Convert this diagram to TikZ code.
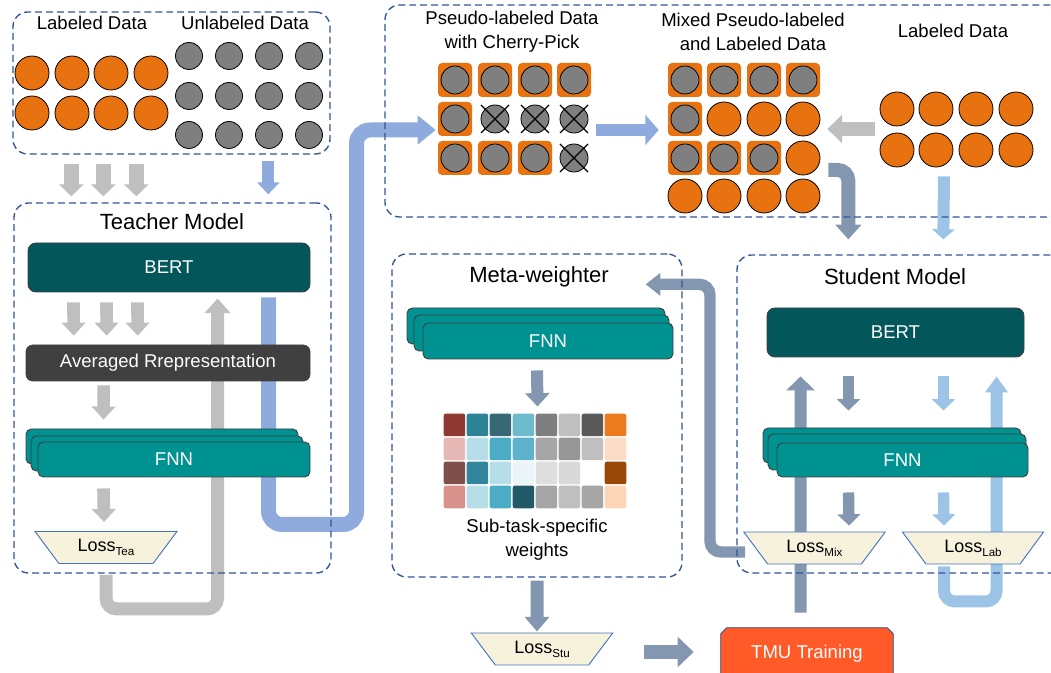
\documentclass[tikz,border=0pt]{standalone}
\usepackage{fontspec}
\setmainfont{Liberation Sans}
\usetikzlibrary{arrows.meta,fit,shapes.geometric}
\pgfdeclarelayer{back}
\pgfsetlayers{back,main}

\definecolor{dashc}{HTML}{2F5597}
\definecolor{orangec}{HTML}{E97210}
\definecolor{grayc}{HTML}{7F7F7F}
\definecolor{bertc}{HTML}{03575B}
\definecolor{avgc}{HTML}{404040}
\definecolor{fnnc}{HTML}{009191}
\definecolor{edgec}{HTML}{3F3F3F}
\definecolor{lossc}{HTML}{F6F2DC}
\definecolor{lossedge}{HTML}{4472C4}
\definecolor{tmuc}{HTML}{FF5A27}
\definecolor{tmuedge}{HTML}{2F528F}
\definecolor{arrgray}{HTML}{BFBFBF}
\definecolor{arrblue}{HTML}{8FAADC}
\definecolor{arrslate}{HTML}{8497B0}
\definecolor{arrlblue}{HTML}{9DC3E6}

\newcommand\fsmain{\fontsize{13.9}{18}\selectfont}
\newcommand\fstitle{\fontsize{16.5}{20}\selectfont}
\newcommand\losssub[1]{\raisebox{-3pt}{\fontsize{8.7}{9}\selectfont #1}}

% one orange square holding a grey circle
\newcommand\sqcell[3]{\node[osq] (#1) at (#2,#3) {};\node[gcirc] (#1c) at (#2,#3) {};}
% a grey circle crossed out
\newcommand\xcell[3]{\node[gcirc] (#1) at (#2,#3) {};
  \draw[line width=0.9pt] ([shift={(-14,-14)}]#1.center) -- ([shift={(14,14)}]#1.center)
    ([shift={(-14,14)}]#1.center) -- ([shift={(14,-14)}]#1.center);}
% a plain orange circle
\newcommand\ocell[3]{\node[ocirc] (#1) at (#2,#3) {};}

\begin{document}
\begin{tikzpicture}[x=0.75pt,y=-0.75pt,
  txt/.style={font=\fsmain, inner sep=0, align=center},
  ttl/.style={font=\fstitle, inner sep=0},
  intext/.style={label={[text=white, font=\fsmain, inner sep=0]center:#1}},
  frame/.style={draw=dashc, dash pattern=on 5.2pt off 3pt, line width=1pt, rounded corners=11pt, inner sep=0},
  bertbox/.style={fill=bertc, draw=edgec, line width=0.7pt, rounded corners=6pt, inner sep=0},
  avgbox/.style={fill=avgc, draw=avgc, line width=0.5pt, rounded corners=5pt, inner sep=0},
  fnnbox/.style={fill=fnnc, draw=edgec, line width=0.7pt, rounded corners=4pt, inner sep=0},
  lossbox/.style={trapezium, trapezium stretches=true, shape border rotate=180,
    trapezium angle=49, minimum width=106.5pt, minimum height=24pt,
    fill=lossc, draw=lossedge, line width=0.7pt, inner sep=0, font=\fontsize{13.5}{16}\selectfont},
  ocirc/.style={circle, fill=orangec, draw=black, line width=0.6pt, minimum size=25.5pt, inner sep=0},
  gcirc/.style={circle, fill=grayc, draw=black, line width=0.6pt, minimum size=21pt, inner sep=0},
  ucirc/.style={circle, fill=grayc, draw=black, line width=0.6pt, minimum size=20.25pt, inner sep=0},
  osq/.style={rectangle, fill=orangec, rounded corners=3pt, minimum size=25.5pt, inner sep=0},
  wcell/.style={rectangle, draw=white, line width=0.8pt, rounded corners=2pt, minimum width=17.25pt, minimum height=18pt, inner sep=0},
  ba/.style n args={4}{draw=#1, line width=#2, -{Triangle[width=#3,length=#4]}}
]
\useasboundingbox (0,0) rectangle (1051,673);

% ---------- input data ----------
\node[frame, fit={(13,12)(330,154)}] (dataL) {};
\node[txt] (tlab) at (92,23) {Labeled Data};
\node[txt] (tunl) at (245,23) {Unlabeled Data};
\foreach \c/\x in {1/32,2/72,3/111,4/151}{
  \foreach \r/\y in {1/73,2/113}{\node[ocirc] (l\r\c) at (\x,\y) {};}}
\foreach \c/\x in {1/189,2/229,3/269,4/309}{
  \foreach \r/\y in {1/56,2/96,3/135}{\node[ucirc] (u\r\c) at (\x,\y) {};}}

% ---------- teacher ----------
\node[frame, fit={(14,203)(331,573)}] (tbox) {};
\node[ttl] (ttea) at (172,222) {Teacher Model};
\node[bertbox, fit={(28,243)(310,292)}, intext=BERT] (tbert) {};
\node[avgbox, fit={(26,345)(310,381)}, intext=Averaged Rrepresentation] (tavg) {};
\node[fnnbox, fit={(26,429)(298,464)}] (tfnnc) {};
\node[fnnbox, fit={(31,436)(303,471)}] (tfnnb) {};
\node[fnnbox, fit={(38,442)(310,477)}, intext=FNN] (tfnn) {};
\node[lossbox] (tloss) at (106,547.5) {Loss\losssub{Tea}};

% ---------- pseudo-labelled / mixed / labelled data ----------
\node[frame, fit={(385,5)(1065,217)}] (dataR) {};
\node[txt] (tpseudo) at (512,32) {Pseudo-labeled Data\\with Cherry-Pick};
\node[txt] (tmixed) at (753,32) {Mixed Pseudo-labeled\\and Labeled Data};
\node[txt] (trlab) at (953,31) {Labeled Data};

\sqcell{p11}{455}{80}\sqcell{p12}{495}{80}\sqcell{p13}{535}{80}\sqcell{p14}{574}{80}
\sqcell{p21}{455}{119}\xcell{p22}{495}{119}\xcell{p23}{535}{119}\xcell{p24}{574}{119}
\sqcell{p31}{455}{158}\sqcell{p32}{495}{158}\sqcell{p33}{535}{158}\xcell{p34}{574}{158}

\sqcell{m11}{685}{80}\sqcell{m12}{724}{80}\sqcell{m13}{764}{80}\sqcell{m14}{803}{80}
\sqcell{m21}{685}{119}\ocell{m22}{724}{119}\ocell{m23}{764}{119}\ocell{m24}{803}{119}
\sqcell{m31}{685}{158}\sqcell{m32}{724}{158}\sqcell{m33}{764}{158}\ocell{m34}{803}{158}
\ocell{m41}{685}{196}\ocell{m42}{724}{196}\ocell{m43}{764}{196}\ocell{m44}{803}{196}

\foreach \c/\x in {1/897,2/936,3/976,4/1016}{
  \foreach \r/\y in {1/109,2/150}{\node[ocirc] (r\r\c) at (\x,\y) {};}}

% ---------- meta-weighter ----------
\node[frame, fit={(392,254)(682,577)}] (mbox) {};
\node[ttl] (tmeta) at (539,277) {Meta-weighter};
\node[fnnbox, fit={(407,308)(665,344)}] (mfnnc) {};
\node[fnnbox, fit={(414,315)(669,351)}] (mfnnb) {};
\node[fnnbox, fit={(423,323)(673,359)}, intext=FNN] (mfnn) {};
\foreach \row [count=\j] in {
  {8E3A32,2E8497,376876,6EBACD,7F7F7F,BFBFBF,595959,EC7A1F},
  {E6B8B5,B6DDE8,4BACC6,5DB2CC,A6A6A6,969696,BFBFBF,FBDCC4},
  {7F504B,31859C,B6DDE8,EBF5F8,DEDEDE,D9D9D9,FFFFFF,984807},
  {D9918C,B6DDE8,4BACC6,215968,A6A6A6,BFBFBF,A6A6A6,FBD5B5}}{
  \foreach \col [count=\i] in \row {
    \definecolor{wc}{HTML}{\col}
    \node[wcell, fill=wc] (w\i-\j) at (431.5+23*\i, 401+24*\j) {};}}
\node[txt] (tsub) at (537,540) {Sub-task-specific\\weights};

% ---------- student ----------
\node[frame, fit={(737,255)(1065,573)}] (sbox) {};
\node[ttl] (tstu) at (895,277) {Student Model};
\node[bertbox, fit={(767,308)(1024,357)}, intext=BERT] (sbert) {};
\node[fnnbox, fit={(763,428)(1021,463)}] (sfnnc) {};
\node[fnnbox, fit={(768,434)(1026,470)}] (sfnnb) {};
\node[fnnbox, fit={(777,443)(1028,477)}, intext=FNN] (sfnn) {};
\node[lossbox] (lmix) at (814.5,548) {Loss\losssub{Mix}};
\node[lossbox] (llab) at (973,548) {Loss\losssub{Lab}};

% ---------- student loss and TMU training ----------
\node[lossbox] (lstu) at (542,649) {Loss\losssub{Stu}};
\node[inner sep=0, fit={(721,628)(893,678)}] (tmu) {};
\filldraw[fill=tmuc, draw=tmuedge, line width=0.7pt]
  (tmu.south west) -- ([shift={(0,6)}]tmu.north west) -- ([shift={(6,0)}]tmu.north west)
  -- ([shift={(-6,0)}]tmu.north east) -- ([shift={(0,6)}]tmu.north east) -- (tmu.south east) -- cycle;
\node[txt, text=white] (tmulabel) at ([shift={(0,1)}]tmu.center) {TMU Training};

% ---------- block arrows, behind the boxes ----------
\begin{pgfonlayer}{back}
\foreach \dx in {59,91,124}{
  \draw[ba={arrgray}{11pt}{18pt}{9pt}] ([shift={(\dx,9)}]dataL.south west) -- ([shift={(\dx-1,-6)}]tbox.north west);}
\draw[ba={arrblue}{9pt}{16.5pt}{9pt}] ([shift={(256,6)}]dataL.south west) -- ([shift={(255,-8)}]tbox.north west);

\foreach \dx in {46,79,110}{
  \draw[ba={arrgray}{9.5pt}{17.5pt}{9.75pt}] ([shift={(\dx,10)}]tbert.south west) -- ([shift={(\dx+2,-9)}]tavg.north west);}
\draw[ba={arrgray}{9.5pt}{17.5pt}{9.75pt}] ([shift={(78,4)}]tavg.south west) -- ([shift={(78,-9)}]tfnnc.north west);
\draw[ba={arrgray}{9.5pt}{17.5pt}{9.75pt}] ([shift={(66,11)}]tfnn.south west) -- ([shift={(-2,-9)}]tloss.north);
\draw[ba={arrgray}{9.75pt}{19pt}{11pt}, rounded corners=8pt]
  ([shift={(0,11)}]tloss.south) -- ++(0,34) -| ([shift={(190,6)}]tbert.south west);
\draw[ba={arrblue}{11.25pt}{21pt}{13.5pt}, rounded corners=10pt]
  ([shift={(241,5)}]tbert.south west) -- ++(0,227) -- ++(88,0) |- ([shift={(-2,11)}]p21.west);

\draw[ba={arrblue}{9pt}{22pt}{10pt}] ([shift={(8,11)}]p24.east) -- ([shift={(-9,11)}]m21.west);
\draw[ba={arrgray}{10.5pt}{21pt}{11pt}] ([shift={(-5,20)}]r11.west) -- ([shift={(7,10)}]m24.east);
\draw[ba={arrslate}{10.5pt}{19pt}{11pt}, rounded corners=8pt]
  ([shift={(8,12)}]m34.east) -| ([shift={(112,-15)}]sbox.north west);
\draw[ba={arrlblue}{9pt}{16.5pt}{7.5pt}] ([shift={(8,9)}]r22.south) -- ([shift={(207,-15)}]sbox.north west);

\draw[ba={arrslate}{8.5pt}{17pt}{8.5pt}] ([shift={(82,19)}]sbert.south west) -- ([shift={(86,-17)}]sfnnc.north west);
\draw[ba={arrlblue}{8.5pt}{17pt}{8.5pt}] ([shift={(177,19)}]sbert.south west) -- ([shift={(181,-17)}]sfnnc.north west);
\draw[ba={arrslate}{8.5pt}{17pt}{8.5pt}] ([shift={(72,15)}]sfnn.south west) -- ([shift={(34.5,-6)}]lmix.north);
\draw[ba={arrlblue}{8.5pt}{17pt}{8.5pt}] ([shift={(167,15)}]sfnn.south west) -- ([shift={(-29,-6)}]llab.north);
\draw[ba={arrslate}{9pt}{21pt}{10.5pt}] ([shift={(80,-15)}]tmu.north west) -- ([shift={(34,19)}]sbert.south west);
\draw[ba={arrlblue}{9pt}{16.5pt}{12pt}, rounded corners=8pt]
  ([shift={(-29,2)}]llab.south) -- ++(0,35) -| ([shift={(230,19)}]sbert.south west);
\draw[ba={arrslate}{8.5pt}{16.5pt}{11pt}, rounded corners=8pt]
  ([shift={(-69.5,4)}]lmix.center) -- ++(-35,0) |- ([shift={(-37,31)}]mbox.north east);

\draw[ba={arrslate}{9pt}{18pt}{10pt}] ([shift={(-11,11)}]mfnn.south) -- ([shift={(2,-6)}]w4-1.north east);
\draw[ba={arrslate}{9.75pt}{18pt}{11pt}] ([shift={(0,3)}]mbox.south) -- ([shift={(-5,-1)}]lstu.north);
\draw[ba={arrslate}{11pt}{22pt}{12pt}] ([shift={(102,3)}]lstu.center) -- ([shift={(-27,-1)}]tmu.west);
\end{pgfonlayer}
\end{tikzpicture}
\end{document}
